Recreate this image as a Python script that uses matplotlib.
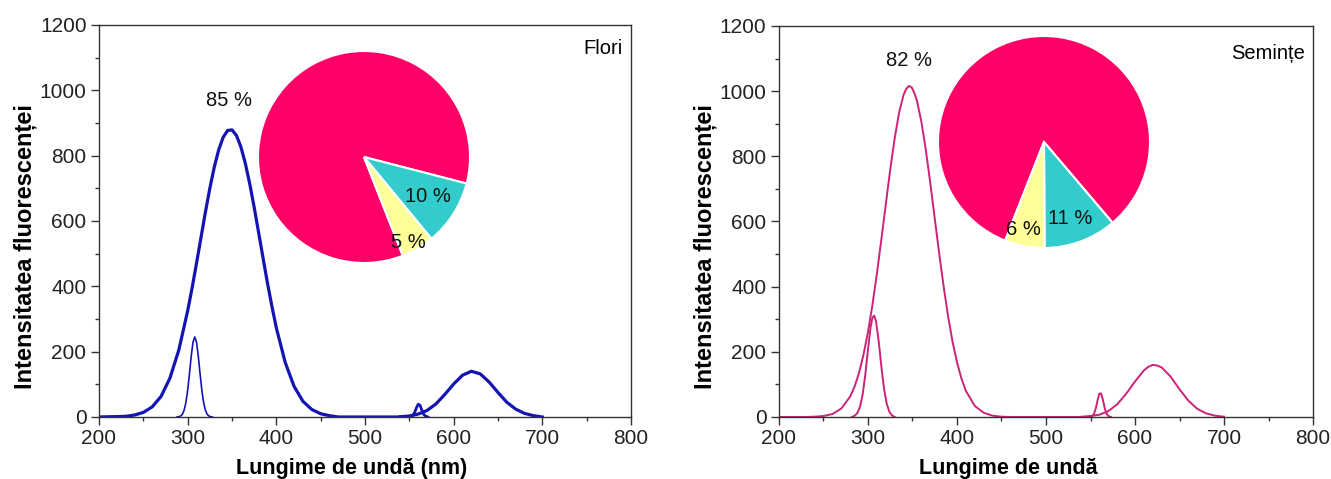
import matplotlib.pyplot as plt
from matplotlib.ticker import MultipleLocator

plt.rcParams['font.family'] = ['Liberation Sans', 'DejaVu Sans']

# ---- Flori (left panel) ----
flori_main_x = [200, 230, 240, 250, 260, 270, 280, 290, 300, 305, 310, 315, 320, 325, 330, 335,
                340, 345, 350, 355, 360, 365, 370, 375, 380, 385, 390, 395, 400, 410, 420,
                430, 440, 450, 460, 470, 545]
flori_main_y = [0, 2, 6, 14, 31, 63, 119, 205, 325, 395, 471, 549, 627, 700, 765, 818,
                856, 877, 879, 862, 827, 777, 714, 642, 565, 487, 410, 339, 273, 167, 94,
                48, 23, 10, 4, 0, 0]
flori_uv_x = [288, 290, 292, 294, 296, 298, 300, 302, 304, 306, 308, 310, 312, 314, 316,
              318, 320, 322, 324, 326, 328]
flori_uv_y = [0, 1, 3, 8, 21, 44, 82, 132, 186, 229, 245, 229, 186, 132, 82,
              44, 21, 8, 3, 1, 0]
flori_g_x = [550, 552, 554, 556, 558, 560, 562, 564, 566, 568, 571]
flori_g_y = [0, 1, 5, 14, 28, 39, 36, 22, 9, 3, 0]
flori_red_x = [540, 550, 560, 570, 580, 590, 600, 610, 620, 630, 640, 650, 660, 670, 680,
               690, 700]
flori_red_y = [1, 3, 9, 20, 40, 69, 101, 128, 140, 132, 107, 75, 45, 24, 11, 4, 0]
flori_pie = [85, 10, 5]

# ---- Seminte (right panel) ----
sem_main_x = [200, 230, 240, 250, 260, 270, 280, 285, 290, 295, 300, 305, 310, 315, 320, 325,
              330, 335, 340, 343, 346, 349, 352, 355, 360, 365, 370, 375, 380, 385, 390, 395, 400,
              405, 410, 420, 430, 440, 450, 460, 540]
sem_main_y = [0, 0, 1, 3, 9, 26, 63, 94, 136, 192, 261, 344, 440, 545, 653, 760,
              856, 935, 989, 1007, 1016, 1012, 995, 971, 906, 819, 718, 609, 502, 400, 309, 231, 168,
              118, 80, 34, 13, 4, 1, 0, 0]
sem_uv_x = [282, 285, 288, 291, 294, 297, 300, 303, 305, 307, 309, 312, 315, 318, 321, 324, 327, 330]
sem_uv_y = [0, 4, 12, 31, 69, 131, 208, 277, 305, 311, 294, 233, 155, 87, 41, 16, 5, 0]
sem_g_x = [549, 552, 554, 556, 558, 560, 562, 564, 566, 568, 570, 573]
sem_g_y = [0, 3, 10, 27, 52, 72, 72, 52, 27, 10, 3, 0]
sem_red_x = [540, 550, 560, 570, 580, 590, 600, 610, 615, 620, 625, 630, 640, 650, 660, 670,
             680, 690, 700]
sem_red_y = [1, 3, 7, 18, 39, 71, 109, 143, 154, 160, 158, 152, 124, 85, 50, 25, 11, 4, 1]
sem_pie = [82, 11, 6]

pie_colors = ['#ff0066', '#33cccc', '#ffff99']
blue = '#1414b4'
magenta = '#cc2277'

fig = plt.figure(figsize=(13.31, 4.79), dpi=100)
W, H = 1331, 479


def style_axes(ax, xlabel, xlab_pos):
    ax.set_xlim(200, 800)
    ax.set_ylim(0, 1200)
    ax.xaxis.set_major_locator(MultipleLocator(100))
    ax.xaxis.set_minor_locator(MultipleLocator(50))
    ax.yaxis.set_major_locator(MultipleLocator(200))
    ax.yaxis.set_minor_locator(MultipleLocator(100))
    ax.tick_params(which='both', direction='out', top=False, right=False,
                   labelsize=15, colors='#333333', labelcolor='#222222', width=1)
    ax.tick_params(which='major', length=6, pad=3)
    ax.tick_params(which='minor', length=3)
    for s in ax.spines.values():
        s.set_color('#333333')
        s.set_linewidth(1)
    ax.set_xlabel(xlabel, fontsize=15.5, fontweight='bold')
    ax.set_ylabel('Intensitatea fluorescenței', fontsize=17, fontweight='bold')
    ax.xaxis.set_label_coords(xlab_pos, -0.105)
    ax.yaxis.set_label_coords(-0.117, 0.435)


def add_pie(cx, cy, r, values, start, label_pos):
    half = r * 1.05
    pax = fig.add_axes([(cx - half) / W, 1 - (cy + half) / H, 2 * half / W, 2 * half / H])
    pax.pie(values, colors=pie_colors, startangle=start, counterclock=False,
            wedgeprops=dict(edgecolor='white', linewidth=1.5))
    pax.set_xlim(-1.05, 1.05)
    pax.set_ylim(-1.05, 1.05)
    pax.set_aspect('equal')
    pax.axis('off')
    for v, (tx, ty) in zip(values, label_pos):
        pax.text(tx, ty, f'{v} %', fontsize=14.5, ha='center', va='center',
                 color='#111111', clip_on=False)


# left panel
ax1 = fig.add_axes([99 / W, 62 / H, 532 / W, 392 / H])
ax1.plot(flori_main_x, flori_main_y, color=blue, lw=2.3, solid_joinstyle='round')
ax1.plot(flori_red_x, flori_red_y, color=blue, lw=2.3, solid_joinstyle='round')
ax1.plot(flori_g_x, flori_g_y, color=blue, lw=2.0, solid_joinstyle='round')
ax1.plot(flori_uv_x, flori_uv_y, color=blue, lw=1.2)
style_axes(ax1, 'Lungime de undă (nm)', 0.475)
ax1.text(0.985, 0.965, 'Flori', transform=ax1.transAxes, ha='right', va='top', fontsize=14.5)

# right panel
ax2 = fig.add_axes([779 / W, 62 / H, 534 / W, 391 / H])
for xs, ys in [(sem_main_x, sem_main_y), (sem_red_x, sem_red_y),
               (sem_g_x, sem_g_y), (sem_uv_x, sem_uv_y)]:
    ax2.plot(xs, ys, color=magenta, lw=1.4, solid_joinstyle='round')
style_axes(ax2, 'Lungime de undă', 0.43)
ax2.text(0.985, 0.955, 'Semințe', transform=ax2.transAxes, ha='right', va='top', fontsize=14.5)

add_pie(364, 157, 106, flori_pie, -68.5,
        [(-1.27, 0.53), (0.60, -0.37), (0.42, -0.81)])
add_pie(1044, 142, 106, sem_pie, -111.5,
        [(-1.27, 0.77), (0.25, -0.72), (-0.19, -0.83)])

fig.savefig('out.png', dpi=100)
